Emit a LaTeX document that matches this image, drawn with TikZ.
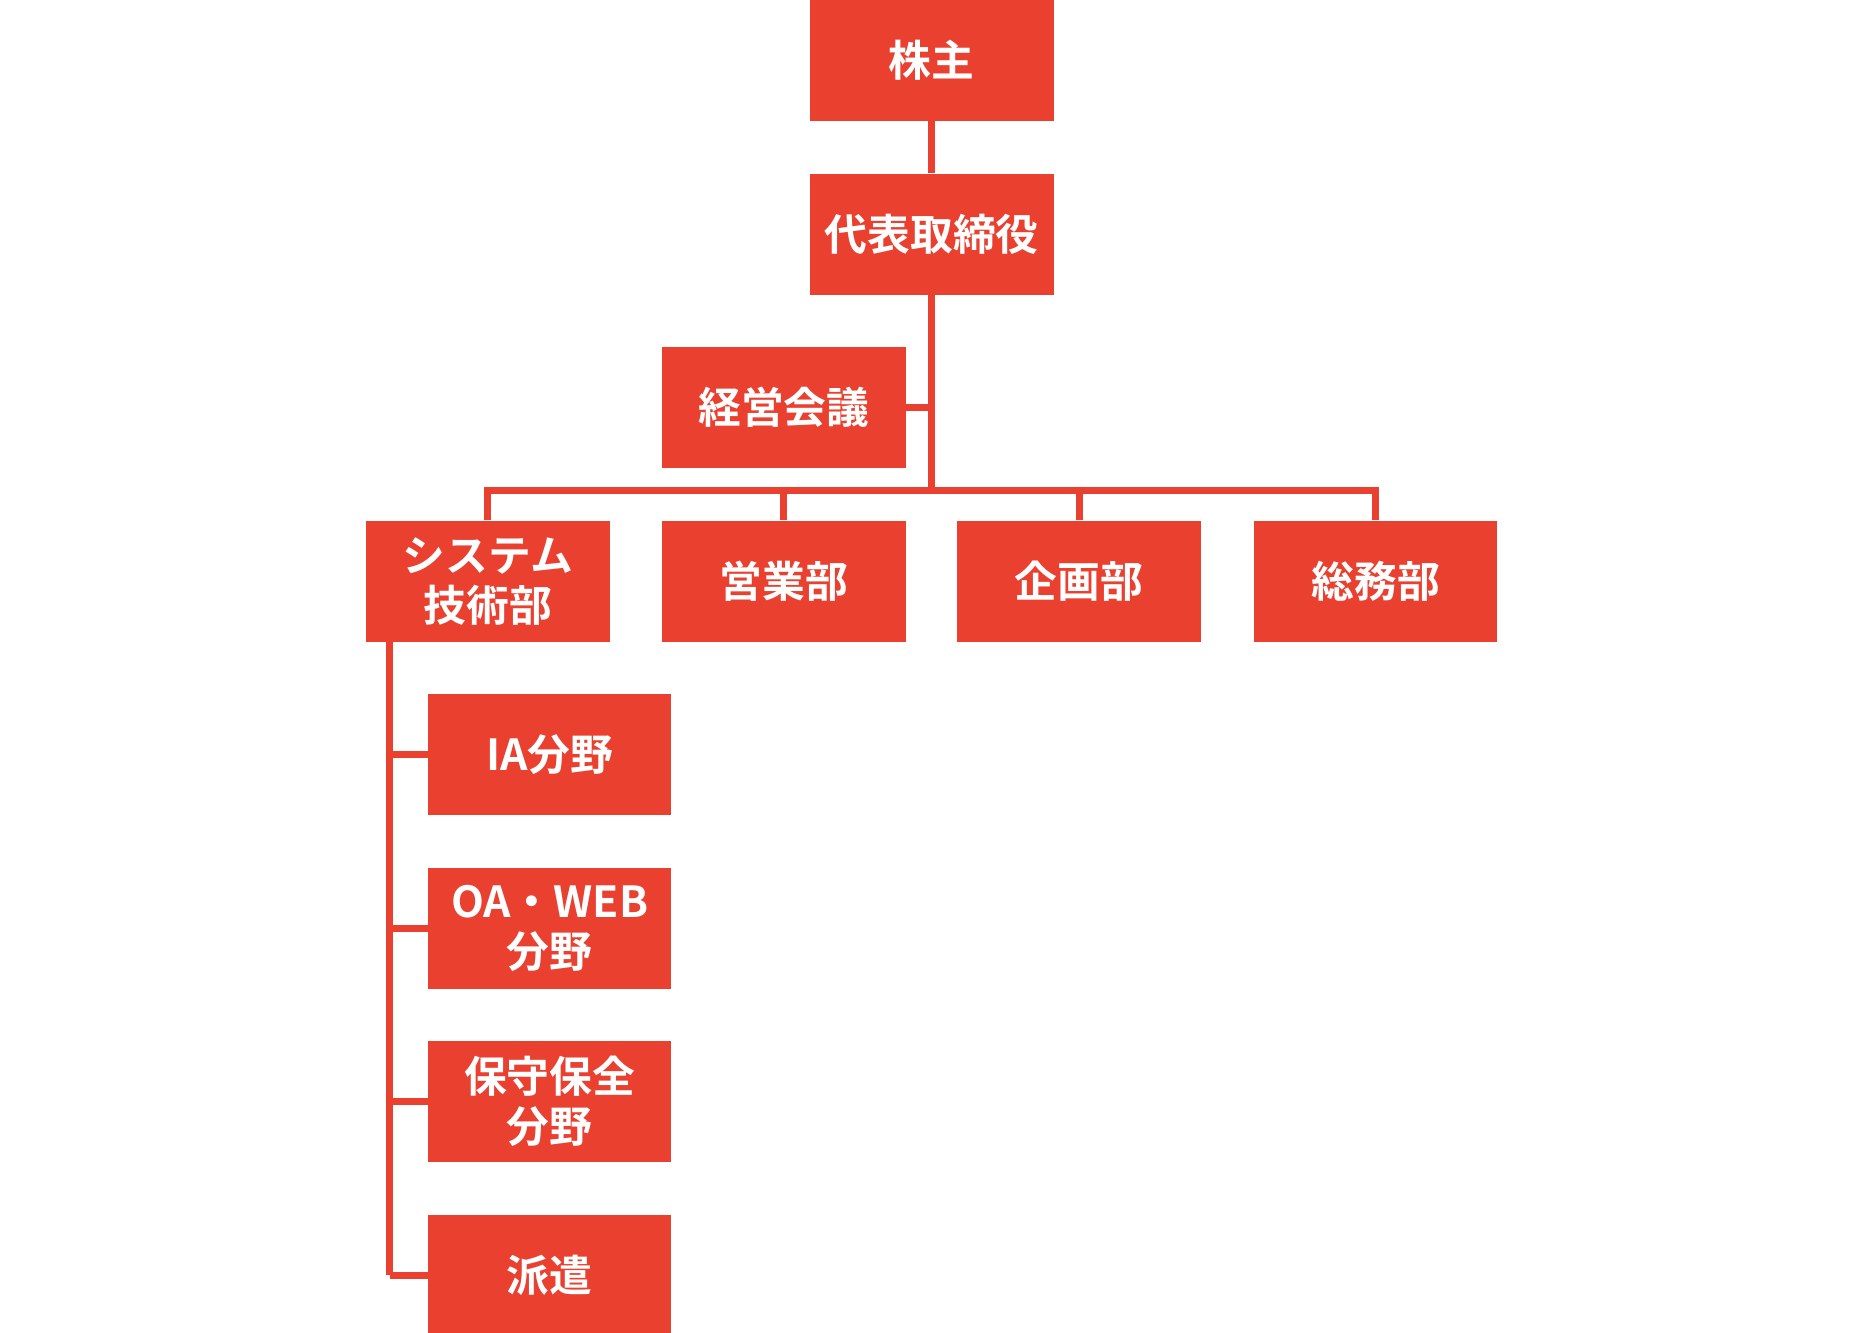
\documentclass[tikz,border=0pt]{standalone}
\usepackage{fontspec}
\setmainfont{Noto Sans CJK JP}[BoldFont={Noto Sans CJK JP Bold}]
\usetikzlibrary{positioning}
\definecolor{orgred}{RGB}{233,64,48}
\tikzset{
    unit/.style = {fill=orgred, text=white, font=\bfseries\fontsize{36}{42}\selectfont,
        minimum width=205pt, minimum height=102pt, inner sep=0pt, align=center},
    link/.style = {draw=orgred, line width=6pt}
}
\begin{document}
\begin{tikzpicture}[x=1pt, y=-1pt]
\useasboundingbox (0,0) rectangle (1560,1121.6);

%top
\node[unit] (kabunushi) at (784,51) {株主};
\node[unit] (daihyo) at (784,197) {代表取締役};
\node[unit] (keiei) at (659.5,343) {経営会議};

%departments
\node[unit] (system) at (410.5,489) {システム\\技術部};
\node[unit] (eigyo) at (659.5,489) {営業部};
\node[unit] (kikaku) at (908,489) {企画部};
\node[unit] (somu) at (1157.5,489) {総務部};

%fields
\node[unit] (ia) at (462.5,635) {IA分野};
\node[unit] (oaweb) at (462.5,781) {OA・WEB\\分野};
\node[unit] (hoshu) at (462.5,927) {保守保全\\分野};
\node[unit] (haken) at (462.5,1073) {派遣};

\coordinate (bus) at (784,413);
\coordinate (spine) at (328,1073);

\draw[link] (kabunushi) -- (daihyo);
\draw[link] (daihyo.south) -- (bus);
\draw[link] (keiei.east) -- (keiei.east -| bus);
\foreach \d in {system, eigyo, kikaku, somu}
    \draw[link] (\d.north) |- (bus);
\draw[link] (system.south -| spine) -- (spine);
\foreach \f in {ia, oaweb, hoshu, haken}
    \draw[link] (\f.west) -- (\f.west -| spine);
\end{tikzpicture}
\end{document}
